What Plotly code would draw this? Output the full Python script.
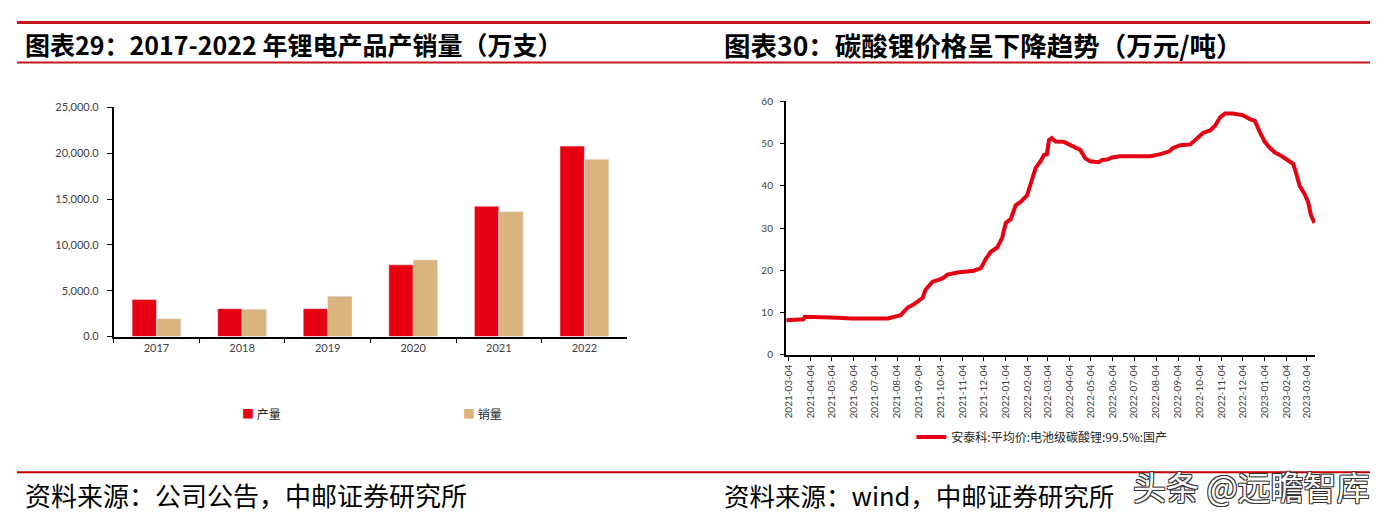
import plotly.graph_objects as go

# ---------------- data ----------------
years = ["2017", "2018", "2019", "2020", "2021", "2022"]
production = [4040, 3050, 3050, 7840, 14220, 20780]
sales = [1950, 2980, 4400, 8370, 13620, 19360]

price_dates = [
    "2021-03-01", "2021-03-25", "2021-03-27", "2021-05-07", "2021-05-13", "2021-05-31",
    "2021-07-22", "2021-08-09", "2021-08-19", "2021-08-27", "2021-09-02", "2021-09-09",
    "2021-09-13", "2021-09-23", "2021-09-30", "2021-10-07", "2021-10-14", "2021-10-28",
    "2021-11-20", "2021-11-30", "2021-12-07", "2021-12-14", "2021-12-23", "2021-12-30",
    "2022-01-04", "2022-01-11", "2022-01-18", "2022-01-25", "2022-02-03", "2022-02-08",
    "2022-02-15", "2022-02-22", "2022-02-27", "2022-03-03", "2022-03-06", "2022-03-10",
    "2022-03-15", "2022-03-27", "2022-04-10", "2022-04-19", "2022-04-26", "2022-05-03",
    "2022-05-15", "2022-05-20", "2022-05-27", "2022-06-03", "2022-06-14", "2022-07-27",
    "2022-08-10", "2022-08-22", "2022-08-27", "2022-09-07", "2022-09-21", "2022-09-30",
    "2022-10-09", "2022-10-19", "2022-10-26", "2022-11-02", "2022-11-09", "2022-11-20",
    "2022-12-04", "2022-12-14", "2022-12-21", "2022-12-28", "2023-01-04", "2023-01-11",
    "2023-01-18", "2023-01-27", "2023-02-03", "2023-02-13", "2023-02-17", "2023-02-22",
    "2023-03-01", "2023-03-06", "2023-03-10", "2023-03-15",
]
price_values = [
    8.2, 8.4, 9.0, 9.0, 8.8, 8.6,
    8.6, 9.4, 11.2, 11.9, 12.7, 13.5,
    15.4, 17.3, 17.7, 18.1, 19.0, 19.5,
    19.9, 20.5, 22.7, 24.4, 25.4, 27.7,
    31.2, 32.1, 35.4, 36.2, 37.7, 40.4,
    44.2, 45.8, 47.3, 47.5, 50.8, 51.3,
    50.5, 50.4, 49.2, 48.5, 46.5, 45.8,
    45.6, 46.1, 46.2, 46.7, 47.0, 47.0,
    47.5, 48.1, 48.9, 49.6, 49.8, 51.2,
    52.5, 53.1, 54.2, 56.2, 57.1, 57.1,
    56.7, 55.8, 55.4, 52.7, 50.4, 49.0,
    47.9, 47.1, 46.3, 45.2, 43.1, 40.0,
    38.1, 36.2, 33.1, 31.2,
]
date_ticks = [
    "2021-03-04", "2021-04-04", "2021-05-04", "2021-06-04", "2021-07-04", "2021-08-04",
    "2021-09-04", "2021-10-04", "2021-11-04", "2021-12-04", "2022-01-04", "2022-02-04",
    "2022-03-04", "2022-04-04", "2022-05-04", "2022-06-04", "2022-07-04", "2022-08-04",
    "2022-09-04", "2022-10-04", "2022-11-04", "2022-12-04", "2023-01-04", "2023-02-04",
    "2023-03-04",
]

bar_names = ["产量", "销量"]
title_left = "图表29：2017-2022 年锂电产品产销量（万支）"
title_right = "图表30：碳酸锂价格呈下降趋势（万元/吨）"
source_left = "资料来源：公司公告，中邮证券研究所"
source_right = "资料来源：wind，中邮证券研究所"
line_name = "安泰科:平均价:电池级碳酸锂:99.5%:国产"
watermark = "头条 @远瞻智库"

# ---------------- figure ----------------
W, H = 1381, 523
RED = "#E60012"
TAN = "#DBB37E"
TICK_FONT = "Lato, 'Open Sans', sans-serif"
CJK = "'Noto Sans CJK SC', sans-serif"


def px_x(p):
    return p / W


def px_y(p):
    return 1 - p / H


fig = go.Figure()

fig.add_trace(go.Bar(x=years, y=production, name=bar_names[0], marker_color=RED,
                     xaxis="x", yaxis="y", showlegend=False))
fig.add_trace(go.Bar(x=years, y=sales, name=bar_names[1], marker_color=TAN,
                     xaxis="x", yaxis="y", showlegend=False))
fig.add_trace(go.Scatter(x=price_dates, y=price_values, name=line_name, mode="lines",
                         line=dict(color=RED, width=4), xaxis="x2", yaxis="y2",
                         legend="legend2"))

axis_common = dict(showgrid=False, zeroline=False, showline=True, linecolor="#000000",
                   linewidth=1.5, ticks="outside", tickcolor="#000000", tickwidth=1.2)

fig.update_layout(
    width=W, height=H, autosize=False,
    margin=dict(l=0, r=0, t=0, b=0),
    paper_bgcolor="white", plot_bgcolor="white",
    barmode="group", bargap=0.43, bargroupgap=0,
    xaxis=dict(domain=[px_x(110), px_x(625)], anchor="y", tickson="boundaries",
               ticklen=5, tickfont=dict(family=TICK_FONT, size=11, color="#404040"),
               **axis_common),
    yaxis=dict(domain=[px_y(338), px_y(103)], anchor="x", range=[0, 25000], dtick=5000,
               tickformat=",.1f", ticklen=5, ticklabelstandoff=6,
               tickfont=dict(family=TICK_FONT, size=11, color="#404040"), **axis_common),
    xaxis2=dict(domain=[px_x(784), px_x(1315)], anchor="y2", type="date",
                range=["2021-02-28", "2023-03-16"], tickmode="array",
                tickvals=date_ticks, ticktext=date_ticks, tickangle=-90, ticklen=4,
                tickfont=dict(family=TICK_FONT, size=10, color="#404040"), **axis_common),
    yaxis2=dict(domain=[px_y(356.7), px_y(96.7)], anchor="x2", range=[0, 60], dtick=10,
                ticklen=4, ticklabelstandoff=5,
                tickfont=dict(family=TICK_FONT, size=10, color="#404040"), **axis_common),
    legend2=dict(orientation="h", x=px_x(910), y=px_y(441), xanchor="left", yanchor="middle",
                 font=dict(family=CJK, size=12, color="#262626"), bgcolor="rgba(0,0,0,0)"),
    showlegend=True,
)

# manual legend for the bar chart (colored square + label)
for name, col, xp in [(bar_names[0], RED, 237), (bar_names[1], TAN, 458)]:
    fig.add_annotation(text=f"<span style='color:{col}'>■</span> {name}",
                       xref="paper", yref="paper", x=px_x(xp), y=px_y(417),
                       xanchor="left", yanchor="middle", showarrow=False,
                       font=dict(family=CJK, size=12, color="#262626"))

# decorative rules
for y0, wdt, col in [(16, 3, "#C8161D"), (57, 2, "#C8161D"), (477, 2, "#C00000")]:
    fig.add_shape(type="line", xref="paper", yref="paper", x0=px_x(13), x1=px_x(1370),
                  y0=px_y(y0), y1=px_y(y0), line=dict(color=col, width=wdt))

# titles and sources
for txt, xp, yp, size, bold in [
    (title_left, 19, 38, 25, True),
    (title_right, 720, 38, 26.5, True),
    (source_left, 19, 500, 26, False),
    (source_right, 720, 500, 25.5, False),
]:
    fig.add_annotation(text=txt, xref="paper", yref="paper", x=px_x(xp), y=px_y(yp),
                       xanchor="left", yanchor="middle", showarrow=False,
                       font=dict(family=CJK, size=size, color="#000000",
                                 weight="bold" if bold else "normal"))

fig.add_annotation(text=watermark, xref="paper", yref="paper", x=px_x(1372), y=px_y(491),
                   xanchor="right", yanchor="middle", showarrow=False,
                   font=dict(family=CJK, size=33, color="#FFFFFF",
                             shadow="1px 1px 0 #333, -1px -1px 0 #333, 1px -1px 0 #333, -1px 1px 0 #333"))

fig.write_html("out.html", config={"displayModeBar": False},
               post_script="document.body.style.margin='0';")
